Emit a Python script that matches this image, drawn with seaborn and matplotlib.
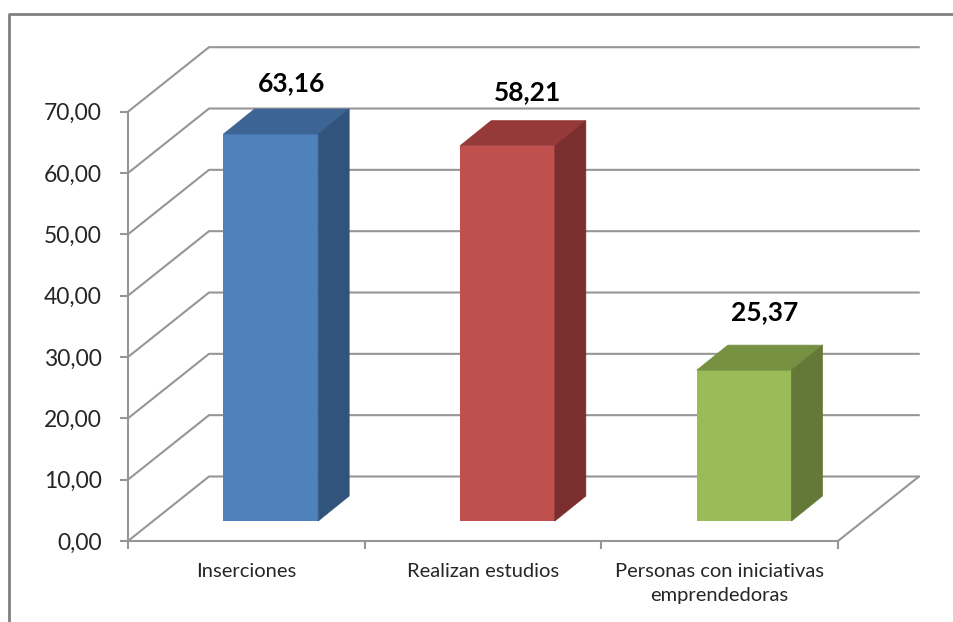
import pandas as pd
import matplotlib
matplotlib.use('Agg')
import matplotlib.pyplot as plt
from matplotlib.patches import Polygon
import seaborn as sns

categories = ['Inserciones', 'Realizan estudios', 'Personas con iniciativas\nemprendedoras']
# printed labels and drawn heights disagree in the original, so both are kept
value_labels = ['63,16', '58,21', '25,37']
bar_heights = [63.1, 61.2, 24.6]
y_ticks = [0, 10, 20, 30, 40, 50, 60, 70]
y_tick_labels = ['0,00', '10,00', '20,00', '30,00', '40,00', '50,00', '60,00', '70,00']
front_colors = ['#4f81bd', '#c0504d', '#9bbb59']
top_colors = ['#3c6494', '#953a38', '#779143']
side_colors = ['#31547c', '#7a2f2e', '#647837']
label_lift = [26, 29, 33]

GRAY = '#969696'
FONT = 'Lato'

plt.rcParams['font.family'] = FONT
sns.set_style('white')
plt.rcParams['font.family'] = FONT

fig = plt.figure(figsize=(9.54, 6.22), dpi=100)
ax = fig.add_axes([128 / 954, 81 / 622, 710 / 954, 429.3 / 622])

df = pd.DataFrame({'categoria': categories, 'valor': bar_heights})
sns.barplot(data=df, x='categoria', y='valor', hue='categoria', palette=front_colors,
            width=0.40, legend=False, saturation=1, linewidth=0, ax=ax, zorder=3)
ax.set_xlim(-0.5, 2.5)
ax.set_ylim(0, 70)

# pixels to data units
px_x = 3 / 710
px_y = 70 / 429.3


def depth_poly(points, color):
    ax.add_patch(Polygon(points, closed=True, facecolor=color, edgecolor=color,
                         linewidth=0.5, clip_on=False, zorder=4))


# back wall and floor
wall_dx = 81 * px_x
wall_dy = 64.5 * px_y
for t in y_ticks:
    ax.plot([-0.5, -0.5 + wall_dx, 2.5 + wall_dx], [t, t + wall_dy, t + wall_dy],
            color=GRAY, lw=1.5, clip_on=False, zorder=1)
ax.plot([2.5, 2.5 + wall_dx], [0, wall_dy], color=GRAY, lw=1.5, clip_on=False, zorder=1)

# bars sit inside the 3d box, so move them off the front plane
shift_x = 24.5 * px_x
lift_y = 20 * px_y
bar_dx = 31 * px_x
bar_dy = 25 * px_y
for i, bar in enumerate(ax.patches[:3]):
    bar.set_x(bar.get_x() + shift_x)
    bar.set_y(lift_y)
    x0 = bar.get_x()
    x1 = x0 + bar.get_width()
    y0 = bar.get_y()
    y1 = y0 + bar.get_height()
    bar.set_clip_on(False)
    depth_poly([(x0, y1), (x1, y1), (x1 + bar_dx, y1 + bar_dy), (x0 + bar_dx, y1 + bar_dy)], top_colors[i])
    depth_poly([(x1, y0), (x1 + bar_dx, y0 + bar_dy), (x1 + bar_dx, y1 + bar_dy), (x1, y1)], side_colors[i])
    ax.annotate(value_labels[i], xy=(x0 + bar_dx, y1 + bar_dy), xytext=(26.5, label_lift[i] * 0.72),
                textcoords='offset points', ha='center', va='center',
                fontsize=19, fontweight='bold', color='black', annotation_clip=False, zorder=5)

ax.set_xlabel('')
ax.set_ylabel('')
ax.set_yticks(y_ticks)
ax.set_yticklabels(y_tick_labels, fontsize=16.5, color='#262626')
ax.set_xticks([0, 1, 2])
ax.set_xticklabels(categories, fontsize=14.5, color='#262626', linespacing=1.55)
ax.set_xticks([-0.5, 0.5, 1.5, 2.5], minor=True)
ax.tick_params(axis='x', which='major', bottom=False, pad=12)
ax.tick_params(axis='x', which='minor', bottom=True, length=6, width=1.5, color=GRAY)
ax.tick_params(axis='y', left=True, length=6, width=1.5, color=GRAY, pad=13)
sns.despine(ax=ax, top=True, right=True)
for side in ['left', 'bottom']:
    ax.spines[side].set_color(GRAY)
    ax.spines[side].set_linewidth(1.5)
ax.patch.set_alpha(0)

# outer chart frame, runs off the right and bottom of the picture
fig.add_artist(plt.Line2D([9 / 954, 9 / 954, 1], [0, 1 - 13.5 / 622, 1 - 13.5 / 622],
                          color='#808080', lw=2, transform=fig.transFigure))

fig.savefig('out.png', dpi=100)
